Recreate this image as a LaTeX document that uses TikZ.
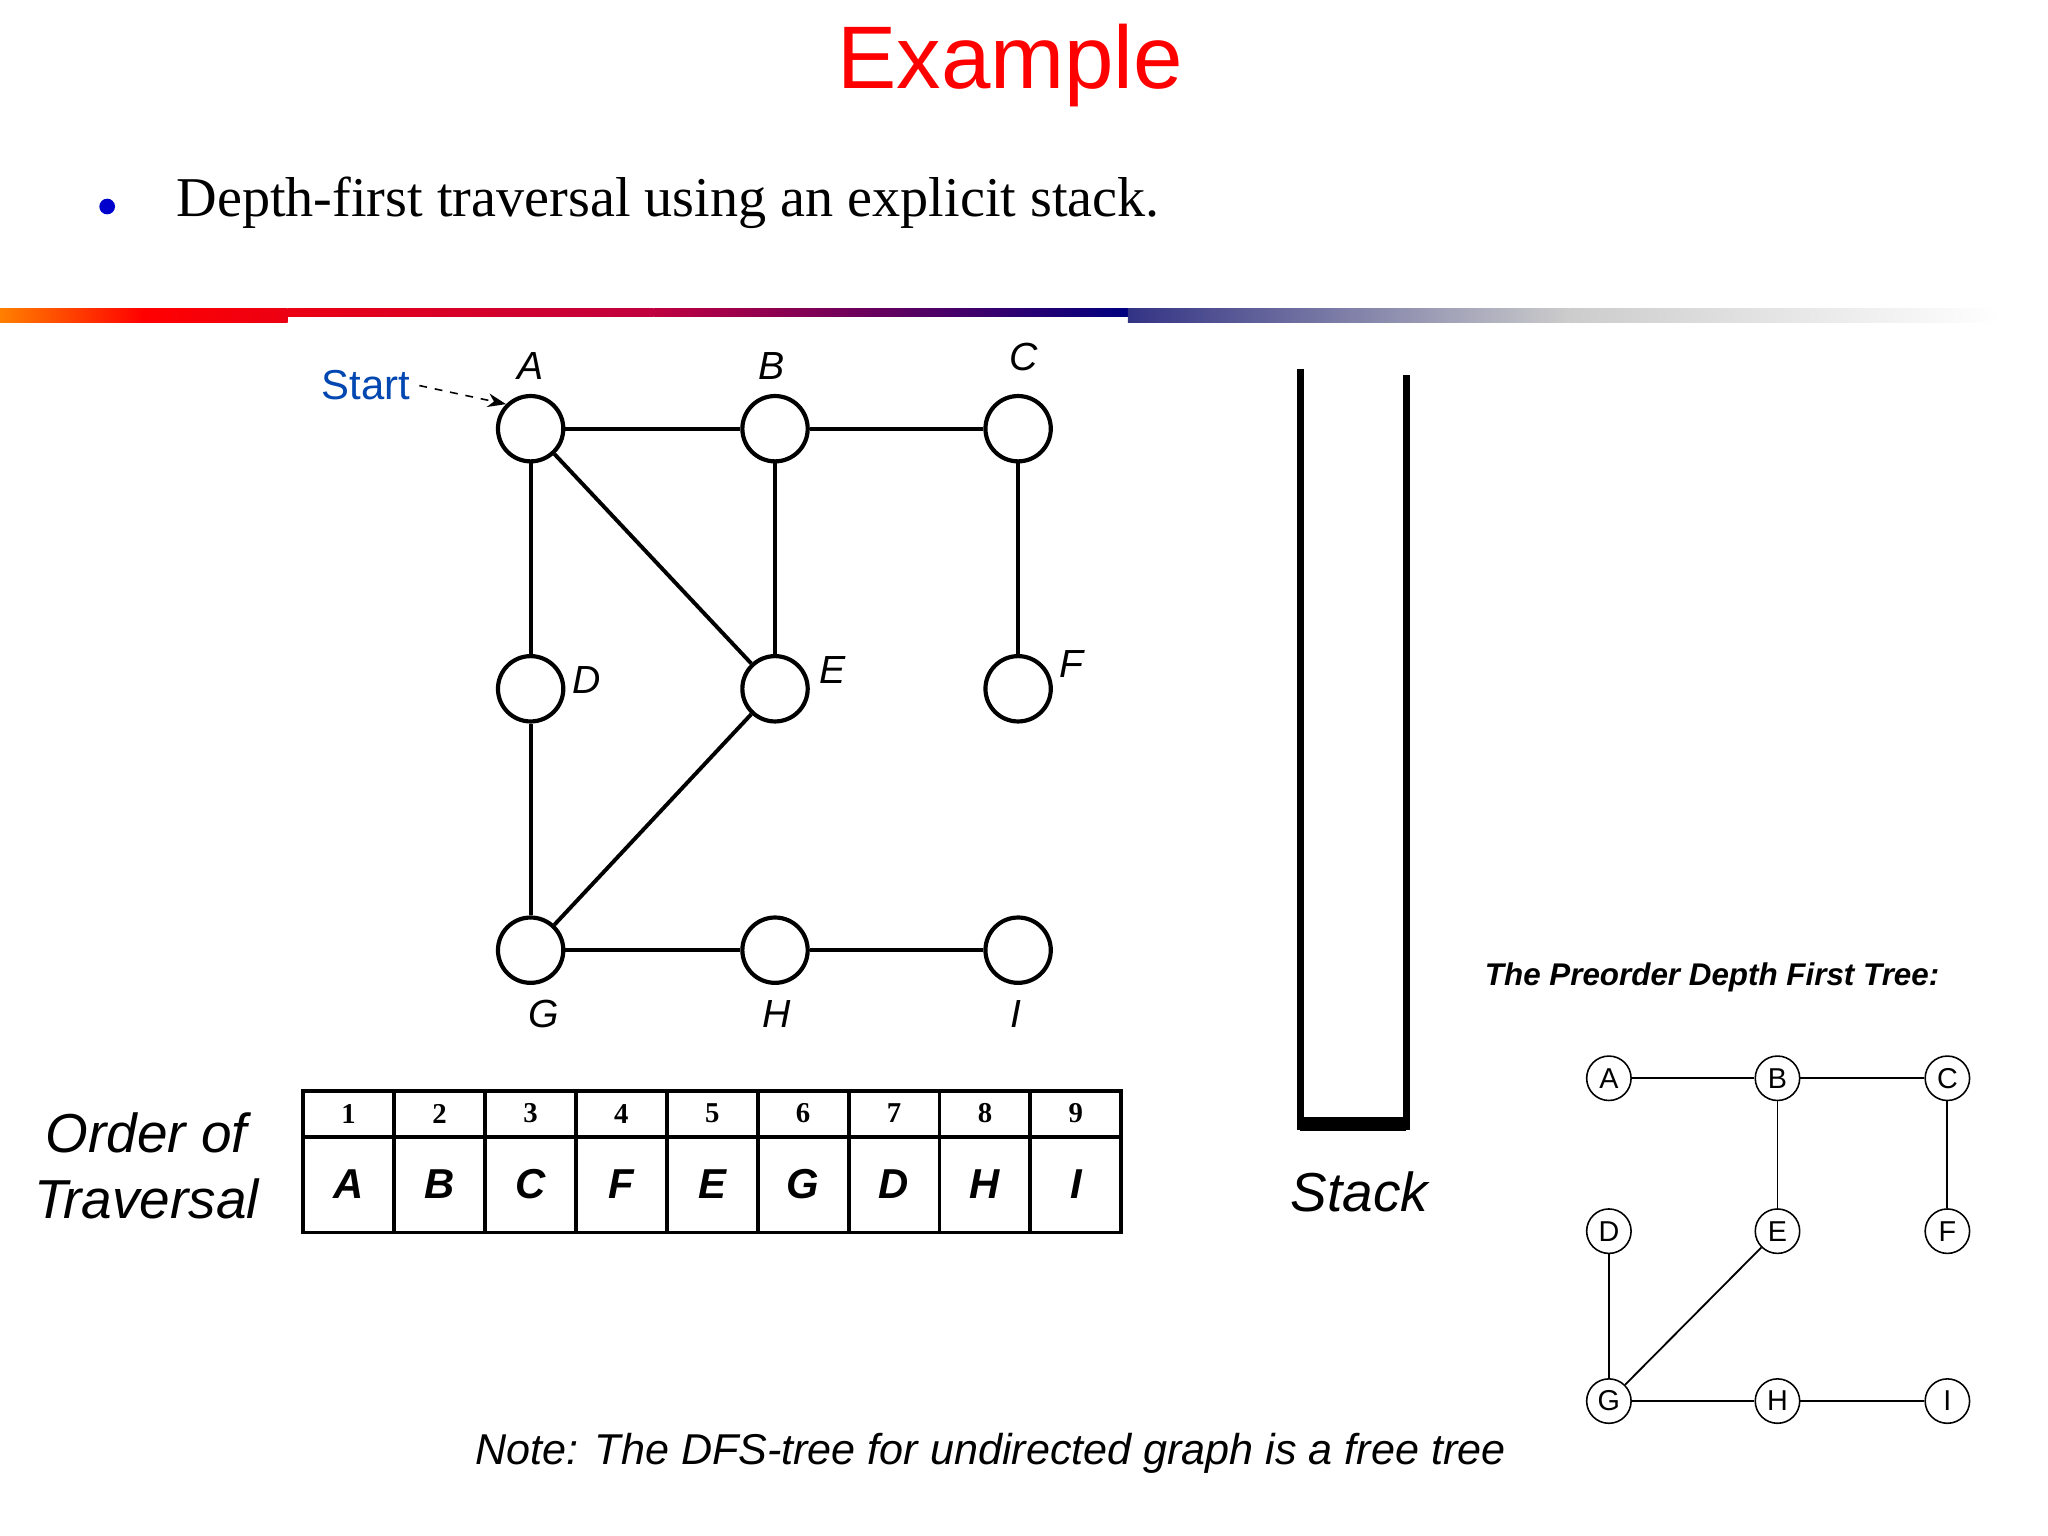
\documentclass[tikz,border=0pt]{standalone}
\usepackage{fontspec}
\setmainfont{Liberation Sans}
\newfontfamily\serifx{Liberation Serif}
\usetikzlibrary{arrows.meta}
\newcommand{\fs}[1]{\fontsize{#1}{#1}\selectfont}
\begin{document}
\begin{tikzpicture}[x=0.5pt,y=-0.5pt,
  gn/.style={circle,draw,line width=1.6pt,minimum size=25pt,inner sep=0pt},
  tn/.style={circle,draw,line width=0.6pt,minimum size=17pt,inner sep=0pt,font=\fs{11}},
  gl/.style={font=\fs{15}\itshape},
  ge/.style={line width=1.5pt},
  te/.style={line width=0.7pt}]
\useasboundingbox (0,0) rectangle (1567,1175);
\fill[white] (0,0) rectangle (1567,1175);
\node[red,font=\fs{34}] (title) at (773,50) {Example};
\fill[blue!80!black] (82,158) circle (6);
\node[anchor=west,font=\serifx\fs{21.5}] (bt) at (128,155) {Depth-first traversal using an explicit stack.};
% bar
\shade[left color=orange,right color=red] (0,236) rectangle (110,247);
\shade[left color=red,right color=red!70!purple] (110,236) rectangle (220,247);
\shade[left color=red!70!purple,right color=purple] (220,236) rectangle (500,242);
\shade[left color=purple,right color=blue!50!black] (500,236) rectangle (863,242);
\shade[left color=blue!40!black!80,right color=gray!40] (863,236) rectangle (1200,247);
\shade[left color=gray!40,right color=white] (1200,236) rectangle (1530,247);
% graph
\foreach \n/\x/\y in {A/406/328,B/593/328,C/779/328,D/406/527,E/593/527,F/779/527,G/406/727,H/593/727,I/779/727}
  \node[gn] (\n) at (\x,\y) {};
\foreach \a/\b in {A/B,B/C,A/D,A/E,B/E,C/F,D/G,E/G,G/H,H/I}
  \draw[ge] (\a) -- (\b);
\node[gl] (lA) at (406,280) {A};
\node[gl] (lB) at (590,280) {B};
\node[gl] (lC) at (783,273) {C};
\node[gl] (lD) at (449,520) {D};
\node[gl] (lE) at (637,513) {E};
\node[gl] (lF) at (820,508) {F};
\node[gl] (lG) at (416,776) {G};
\node[gl] (lH) at (594,776) {H};
\node[gl] (lI) at (777,776) {I};
\node[blue!60!cyan!70!black,font=\fs{16}] (start) at (280,295) {Start};
\draw[dashed,-{Stealth[length=7pt]},line width=0.6pt] (start.east) -- (A.north west);
% stack
\draw[line width=2.5pt] (995,282) -- (995,862) -- (1076,862) -- (1076,287);
\draw[line width=5pt] (995,860) -- (1076,860);
\node[font=\fs{21}\itshape] (stk) at (1040,912) {Stack};
% table
\draw[line width=1.5pt] (232,835) rectangle (858,943);
\draw[line width=1.5pt] (232,870) -- (858,870);
\foreach \i/\l in {1/A,2/B,3/C,4/F,5/E,6/G,7/D,8/H,9/I}{
  \pgfmathsetmacro\xl{232+(\i-1)*69.55}
  \pgfmathsetmacro\xc{232+(\i-0.5)*69.55}
  \ifnum\i>1 \draw[line width=1.5pt] (\xl,835) -- (\xl,943);\fi
  \node[font=\serifx\bfseries\fs{11}] (n\i) at (\xc,852) {\i};
  \node[font=\bfseries\itshape\fs{16}] (t\i) at (\xc,906) {\l};
}
\node[font=\fs{21}\itshape,align=center] (ord) at (112,892) {Order of\\[4pt]Traversal};
% tree
\node[font=\bfseries\itshape\fs{12}] (tt) at (1310,748) {The Preorder Depth First Tree:};
\foreach \n/\x/\y in {A/1231/825,B/1360/825,C/1490/825,D/1231/942,E/1360/942,F/1490/942,G/1231/1072,H/1360/1072,I/1490/1072}
  \node[tn] (t\n) at (\x,\y) {\n};
\foreach \a/\b in {A/B,B/C,B/E,C/F,D/G,E/G,G/H,H/I}
  \draw[te] (t\a) -- (t\b);
\node[font=\fs{16.5}\itshape] (note) at (758,1112) {Note: The DFS-tree for undirected graph is a free tree};
\end{tikzpicture}
\end{document}
